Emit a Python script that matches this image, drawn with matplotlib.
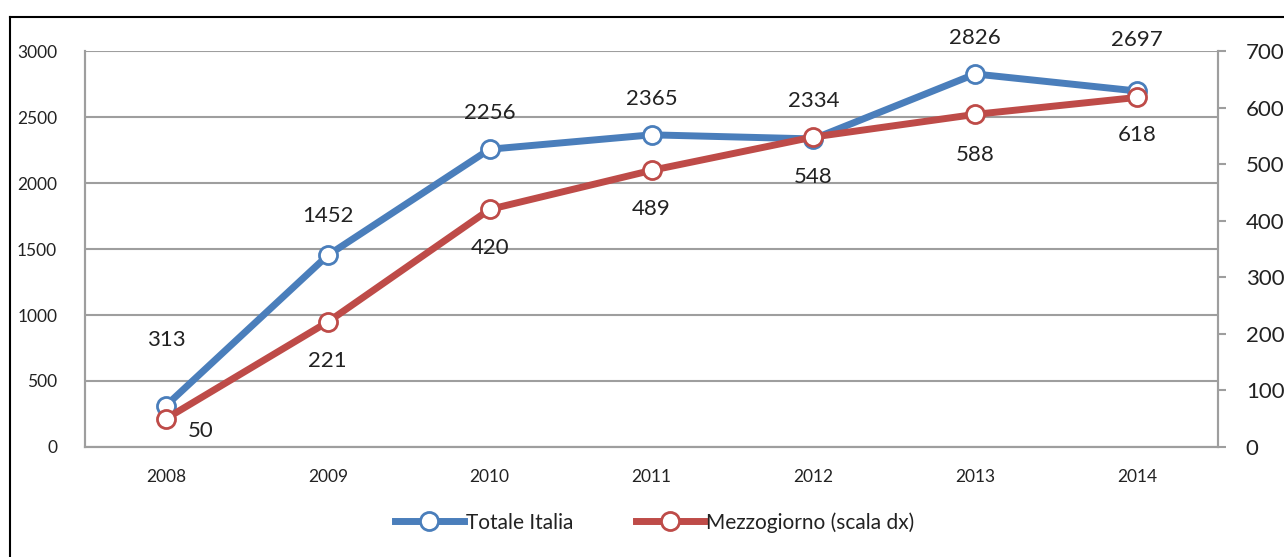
import matplotlib
matplotlib.use("Agg")
import matplotlib.pyplot as plt
from matplotlib.lines import Line2D

years = ["2008", "2009", "2010", "2011", "2012", "2013", "2014"]
totale = [313, 1452, 2256, 2365, 2334, 2826, 2697]
mezzogiorno = [50, 221, 420, 489, 548, 588, 618]

plt.rcParams['font.family'] = ['Lato', 'DejaVu Sans']
blue = "#4A7EBB"
red = "#BE4B48"
grid_c = "#9E9E9E"
txt_c = "#222222"

fig = plt.figure(figsize=(12.84, 5.57), dpi=100)
ax = fig.add_axes([0.0662, 0.1975, 0.8824, 0.7109])
ax2 = ax.twinx()

x = list(range(len(years)))
ax.plot(x, totale, color=blue, lw=5, marker="o", ms=13, mfc="white",
        mec=blue, mew=2, zorder=3, label="Totale Italia")
ax2.plot(x, mezzogiorno, color=red, lw=5, marker="o", ms=13, mfc="white",
         mec=red, mew=2, zorder=3, label="Mezzogiorno (scala dx)")

ax.set_xlim(-0.5, 6.5)
ax.set_ylim(0, 3000)
ax2.set_ylim(0, 700)
ax.set_yticks(range(0, 3001, 500))
ax2.set_yticks(range(0, 701, 100))
ax.set_xticks(x)
ax.set_xticklabels(years)

ax.grid(axis="y", color=grid_c, lw=1.5)
ax.set_axisbelow(True)
for a in (ax, ax2):
    for s in a.spines.values():
        s.set_color(grid_c)
        s.set_linewidth(1.5)
    a.spines["top"].set_visible(False)
ax.tick_params(axis="y", length=0, pad=20, labelsize=12.5, labelcolor=txt_c)
ax.tick_params(axis="x", length=0, pad=16, labelsize=12.5, labelcolor=txt_c)
ax2.tick_params(axis="y", length=6, width=1.5, color=grid_c, pad=14,
                labelsize=16, labelcolor=txt_c)

# data labels
blue_off = [(0, 47), (0, 28), (0, 26), (0, 26), (0, 27), (0, 26), (0, 37)]
red_off = [(25, -9), (0, -28), (0, -28), (0, -28), (0, -29), (0, -29), (0, -27)]
for i, v in enumerate(totale):
    ax.annotate(str(v), (i, v), xytext=blue_off[i], textcoords="offset points",
                ha="center", va="center", fontsize=16, color=txt_c)
for i, v in enumerate(mezzogiorno):
    ax2.annotate(str(v), (i, v), xytext=red_off[i], textcoords="offset points",
                 ha="center", va="center", fontsize=16, color=txt_c)

h1, l1 = ax.get_legend_handles_labels()
h2, l2 = ax2.get_legend_handles_labels()
fig.legend(h1 + h2, l1 + l2, loc="center", bbox_to_anchor=(0.51, 0.062),
           ncol=2, frameon=False, fontsize=15, handlelength=3.3,
           handletextpad=0.1, columnspacing=3, labelcolor=txt_c)

# outer frame lines
fx = 10 / 1284
fy = 1 - 17 / 557
fig.add_artist(Line2D([fx, fx], [0, fy], transform=fig.transFigure, color="black", lw=1.5))
fig.add_artist(Line2D([fx, 1], [fy, fy], transform=fig.transFigure, color="black", lw=1.5))

fig.savefig("out.png", dpi=100)
